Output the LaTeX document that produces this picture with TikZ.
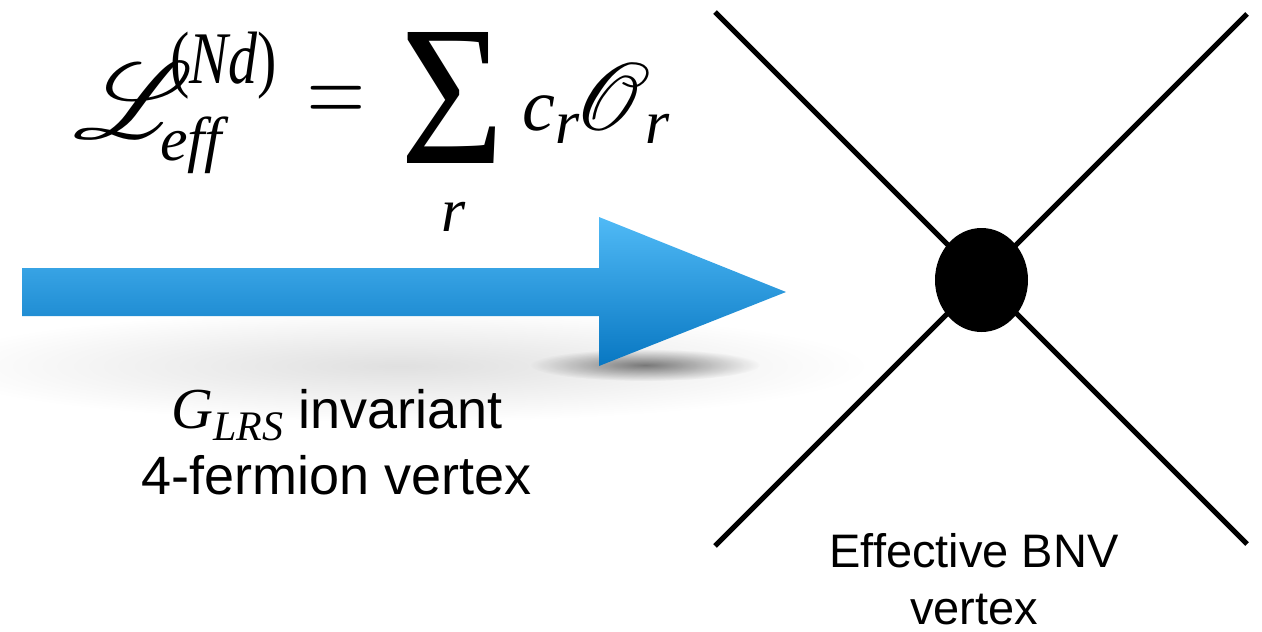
\RequirePackage{fix-cm}
\documentclass[tikz,border=0pt]{standalone}
\usepackage{mathrsfs}
\usepackage{graphicx}
\usepackage[no-math]{fontspec}
\setmainfont{Liberation Sans}
\newfontfamily\tms{Liberation Serif}
\usetikzlibrary{fadings,shapes.geometric}
\definecolor{arrowtop}{RGB}{80,186,246}
\definecolor{arrowbot}{RGB}{8,119,194}
\tikzfading[name=softball, inner color=transparent!0, outer color=transparent!100]
\tikzset{
  leg/.style={line width=5pt, line cap=butt},
  lbl/.style={inner sep=0pt, anchor=base, font=\fontsize{54}{60}\selectfont},
  vlbl/.style={inner sep=0pt, anchor=base, font=\fontsize{47}{54}\selectfont},
  blob/.style={ellipse, fill=black, minimum width=93pt, minimum height=104pt, inner sep=0pt},
  piece/.style={inner sep=0pt},
  itbig/.style={inner sep=0pt, text height=0.46em, text depth=0pt, font=\fontsize{74}{80}\selectfont\tms\itshape},
  itsmall/.style={inner sep=0pt, text height=0.46em, text depth=0pt, font=\fontsize{62}{70}\selectfont\tms\itshape},
  itsup/.style={inner sep=0pt, font=\fontsize{62}{70}\selectfont\tms\itshape}
}
\begin{document}
\begin{tikzpicture}[x=1pt,y=-1pt]
\useasboundingbox (0,0) rectangle (1262,632);
% shadow
\fill[black, opacity=0.12, path fading=softball] (400,366) ellipse (470 and 56);
\fill[black, opacity=0.5, path fading=softball] (645,365) ellipse (115 and 16);
% arrow
\shade[top color=arrowtop, bottom color=arrowbot]
  (22,268) -- (599,268) -- (599,217) -- (786,292) -- (599,366) -- (599,316) -- (22,316) -- cycle;
% formula
\node[piece, anchor=south west] (L) at (73,139) {\resizebox*{120pt}{76pt}{$\mathscr{L}$}};
\node[itsup, anchor=base west, font=\fontsize{58}{66}\selectfont\tms\itshape, yscale=1.28] (nd) at (170,83) {{\upshape(}Nd{\upshape)}};
\node[itsup, anchor=base west] (eff) at (160,160) {eff};
\node[piece, anchor=base, font=\fontsize{80}{90}\selectfont, yscale=1.34] (eq) at (336.5,124) {$=$};
\node[piece, anchor=north west] (sum) at (400,32) {\resizebox*{104pt}{131pt}{\tms Σ}};
\node[itsmall, anchor=base] (rsum) at (454,231) {r};
\node[itbig, anchor=base west] (c) at (522,130) {c};
\node[itsmall, anchor=base west] (cr) at (555,143) {r};
\node[piece, anchor=south west] (O) at (574,131) {\resizebox*{76pt}{67pt}{$\mathscr{O}$}};
\node[itsmall, anchor=base west] (Or) at (645,143) {r};
% lower labels
\node[lbl] (inv) at (337,428) {{\tms\itshape\fontsize{58}{60}\selectfont G\raisebox{-12pt}{\fontsize{42}{44}\selectfont LRS}} invariant};
\node[lbl] (ferm) at (337,494) {4-fermion vertex};
% vertex
\coordinate (tl) at (715,12);
\coordinate (tr) at (1247,14);
\coordinate (bl) at (715,546);
\coordinate (br) at (1247,544);
\draw[leg] (tl) -- (br);
\draw[leg] (tr) -- (bl);
\node[blob] (v) at (981.5,280) {};
\node[vlbl] (eff2) at (974,567) {Effective BNV};
\node[vlbl] (vert) at (974,624) {vertex};
\end{tikzpicture}
\end{document}
